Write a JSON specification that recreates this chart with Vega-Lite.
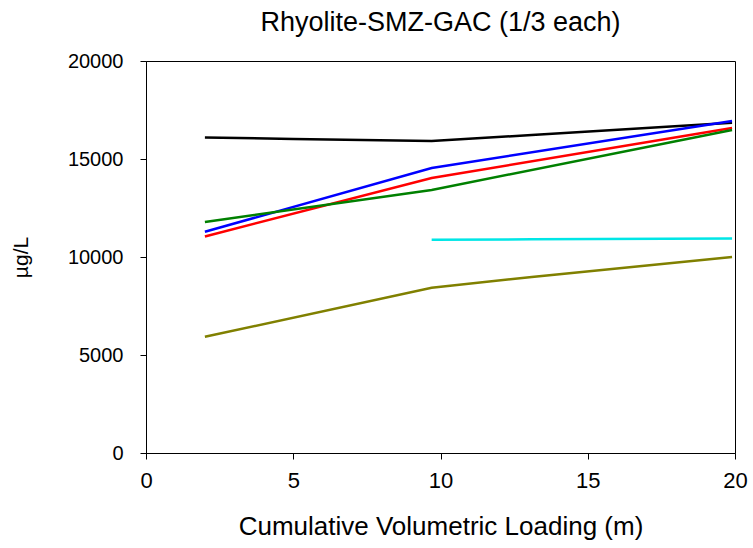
{
  "$schema": "https://vega.github.io/schema/vega-lite/v6.json",
  "autosize": "none",
  "width": 589,
  "height": 392,
  "padding": {"left": 146, "top": 61, "right": 18, "bottom": 95},
  "background": "white",
  "config": {
    "font": "Liberation Sans",
    "view": {"stroke": "#000000", "strokeWidth": 1},
    "axis": {
      "grid": false,
      "domainColor": "#000000",
      "tickColor": "#000000",
      "tickSize": 6,
      "labelColor": "#000000",
      "titleColor": "#000000",
      "labelFont": "Liberation Sans",
      "titleFont": "Liberation Sans",
      "titleFontWeight": "normal"
    }
  },
  "title": {
    "text": "Rhyolite-SMZ-GAC (1/3 each)",
    "font": "Liberation Sans",
    "fontSize": 27,
    "fontWeight": "normal",
    "color": "#000000",
    "anchor": "middle",
    "offset": 14
  },
  "data": {
    "values": [
      {"series": "A", "x": 2, "y": 16100},
      {"series": "A", "x": 5, "y": 16020},
      {"series": "A", "x": 9.7, "y": 15920},
      {"series": "A", "x": 13.1, "y": 16220},
      {"series": "A", "x": 19.9, "y": 16850},
      {"series": "B", "x": 2, "y": 11290},
      {"series": "B", "x": 9.7, "y": 14540},
      {"series": "B", "x": 19.9, "y": 16940},
      {"series": "C", "x": 2, "y": 11050},
      {"series": "C", "x": 9.7, "y": 14030},
      {"series": "C", "x": 19.9, "y": 16580},
      {"series": "D", "x": 2, "y": 11790},
      {"series": "D", "x": 9.7, "y": 13420},
      {"series": "D", "x": 19.9, "y": 16480},
      {"series": "E", "x": 9.7, "y": 10880},
      {"series": "E", "x": 13.1, "y": 10900},
      {"series": "E", "x": 19.9, "y": 10940},
      {"series": "F", "x": 2, "y": 5930},
      {"series": "F", "x": 9.7, "y": 8430},
      {"series": "F", "x": 13.1, "y": 8980},
      {"series": "F", "x": 19.9, "y": 10000}
    ]
  },
  "mark": {"type": "line", "strokeWidth": 2.5},
  "encoding": {
    "x": {
      "field": "x",
      "type": "quantitative",
      "scale": {"domain": [0, 20]},
      "axis": {"title": "Cumulative Volumetric Loading (m)", "values": [0, 5, 10, 15, 20], "labelFlush": false, "labelFontSize": 22, "titleFontSize": 26, "labelPadding": 11, "titlePadding": 22}
    },
    "y": {
      "field": "y",
      "type": "quantitative",
      "scale": {"domain": [0, 20000]},
      "axis": {"title": "µg/L", "values": [0, 5000, 10000, 15000, 20000], "labelFontSize": 20, "titleFontSize": 21, "labelPadding": 17, "titlePadding": 36, "format": "d"}
    },
    "color": {
      "field": "series",
      "type": "nominal",
      "scale": {"domain": ["A", "B", "C", "D", "E", "F"], "range": ["#000000", "#0000FF", "#FF0000", "#008000", "#00E6E6", "#808000"]},
      "legend": null
    },
    "order": {"field": "x", "type": "quantitative"}
  }
}
